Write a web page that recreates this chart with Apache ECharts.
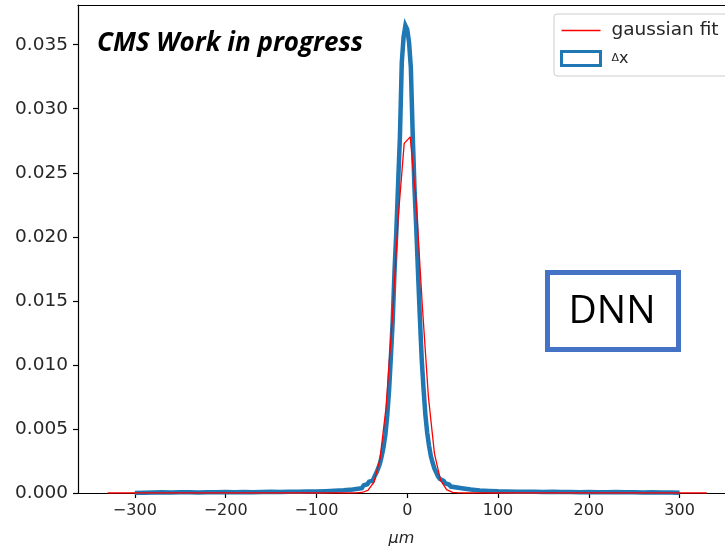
<!DOCTYPE html>
<html>
<head>
<meta charset="utf-8">
<script src="https://cdn.jsdelivr.net/npm/echarts@6/dist/echarts.min.js"></script>
<style>
  html, body { margin: 0; padding: 0; background: #fff; }
  #chart { width: 725px; height: 552px; }
</style>
</head>
<body>
<div id="chart"></div>
<script>
// Residual histogram (Δx, µm) with its gaussian fit.

// Fine 2 µm bins across the core, from -50 to 50 µm
const coreEdges = [-50,-48,-46,-44,-42,-40,-38,-36,-34,-32,-30,-28,-26,-24,-22,-20,-18,-16,-14,-12,-10,-8,-6,-4,-2,0,
                   2,4,6,8,10,12,14,16,18,20,22,24,26,28,30,32,34,36,38,40,42,44,46,48,50];
const coreDensity = [0.00052,0.00060,0.00068,0.00074,0.00088,0.00097,0.00112,0.00130,0.00158,0.00192,
                     0.00232,0.00290,0.00362,0.00458,0.00605,0.00800,0.01060,0.01340,0.01730,0.02040,
                     0.02420,0.02790,0.03360,0.03560,0.03650,
                     0.03620,0.03520,0.03320,0.02810,0.02380,0.02060,0.01700,0.01360,0.01040,0.00810,
                     0.00610,0.00470,0.00370,0.00288,0.00236,0.00190,0.00160,0.00128,0.00110,0.00096,
                     0.00084,0.00076,0.00066,0.00057,0.00050];

// Coarser 10 µm bins in the tails
const leftTailEdges = [-300,-290,-280,-270,-260,-250,-240,-230,-220,-210,-200,-190,-180,-170,-160,-150,-140,-130,-120,-110,-100,-90,-80,-70,-60,-50];
const leftTailDensity = [0.00002,0.00003,0.00005,0.00004,0.00006,0.00005,0.00004,0.00006,0.00005,0.00007,
                         0.00006,0.00008,0.00006,0.00007,0.00009,0.00008,0.00009,0.00010,0.00012,0.00011,
                         0.00014,0.00017,0.00021,0.00027,0.00038];
const rightTailEdges = [50,60,70,80,90,100,110,120,130,140,150,160,170,180,190,200,210,220,230,240,250,260,270,280,290,300];
const rightTailDensity = [0.00037,0.00027,0.00020,0.00016,0.00013,0.00012,0.00010,0.00009,0.00010,0.00008,
                          0.00009,0.00007,0.00008,0.00006,0.00007,0.00006,0.00005,0.00007,0.00005,0.00006,
                          0.00004,0.00005,0.00004,0.00003,0.00002];

// Gaussian fit curve, sampled points (µm, density)
const fitX = [-330,-63.33,-56.67,-50,-43.33,-36.67,-30,-23.33,-16.67,-10,-3.33,3.33,10,16.67,23.33,30,36.67,43.33,50,56.67,63.33,330];
const fitY = [0,0,0.00001,0.00004,0.00021,0.00084,0.00265,0.00667,0.01338,0.02143,0.02730,0.02780,0.02255,0.01458,0.00750,0.00308,0.00101,0.00026,0.00005,0.00001,0,0];

const xTicks = [-300,-200,-100,0,100,200,300];
const yTicks = [0,0.005,0.010,0.015,0.020,0.025,0.030,0.035];

// Step outline for the histogram (matplotlib "step" style)
function stepOutline(groups) {
  const pts = [];
  groups.forEach(([edges, vals]) => {
    for (let i = 0; i < vals.length; i++) {
      pts.push([edges[i], vals[i]]);
      pts.push([edges[i + 1], vals[i]]);
    }
  });
  const first = pts[0][0], last = pts[pts.length - 1][0];
  return [[first, 0]].concat(pts, [[last, 0]]);
}
const histPts = stepOutline([[leftTailEdges, leftTailDensity], [coreEdges, coreDensity], [rightTailEdges, rightTailDensity]]);
const fitPts = fitX.map((x, i) => [x, fitY[i]]);

const FONT = 'DejaVu Sans';
const INK = '#262626';
const xMin = -362.6, xMax = 350, yMax = 0.0381;
const spine = { show: true, onZero: false, lineStyle: { color: '#000', width: 1.2 } };

const chart = echarts.init(document.getElementById('chart'), null, { renderer: 'canvas' });
chart.setOption({
  animation: false,
  backgroundColor: '#fff',
  grid: { left: 78, right: 0, top: 5, bottom: 59 },
  xAxis: [{
    type: 'value', min: xMin, max: xMax, position: 'bottom',
    name: 'μm', nameLocation: 'middle', nameGap: 38,
    nameTextStyle: { fontFamily: FONT, fontSize: 16, fontStyle: 'italic', color: INK },
    axisLine: spine,
    axisTick: { show: true, length: 5, customValues: xTicks, lineStyle: { color: '#000', width: 1.2 } },
    axisLabel: { customValues: xTicks, fontFamily: FONT, fontSize: 16, color: INK, margin: 10,
                 formatter: v => String(v).replace('-', '\u2212') },
    splitLine: { show: false }
  }, {
    type: 'value', min: xMin, max: xMax, position: 'top',
    axisLine: spine,
    axisTick: { show: false }, axisLabel: { show: false }, splitLine: { show: false }
  }],
  yAxis: {
    type: 'value', min: 0, max: yMax, position: 'left',
    axisLine: spine,
    axisTick: { show: true, length: 5, customValues: yTicks, lineStyle: { color: '#000', width: 1.2 } },
    axisLabel: { customValues: yTicks, fontFamily: FONT, fontSize: 18.5, color: INK, margin: 10,
                 formatter: v => v.toFixed(3) },
    splitLine: { show: false }
  },
  legend: {
    left: 554, top: 14, orient: 'vertical',
    padding: [7, 40, 9, 6], itemGap: 10,
    itemWidth: 39, itemHeight: 14,
    symbolKeepAspect: true,
    borderColor: '#cccccc', borderWidth: 1, borderRadius: 3,
    backgroundColor: 'rgba(255,255,255,0.8)',
    textStyle: { fontFamily: FONT, fontSize: 18.5, color: INK, padding: [0, 0, 0, 6],
                 rich: { d: { fontFamily: FONT, fontSize: 11, color: INK }, x: { fontFamily: FONT, fontSize: 16, color: INK } } },
    formatter: name => name === 'Δx' ? '{d|Δ}{x|x}' : name,
    data: [
      { name: 'gaussian fit', icon: 'path://M0,0 L39,0 L39,1.4 L0,1.4 Z', itemStyle: { color: '#ff0000' } },
      { name: 'Δx', icon: 'rect', itemStyle: { color: '#ffffff', borderColor: '#1f77b4', borderWidth: 3 } }
    ]
  },
  series: [{
    name: 'gaussian fit', type: 'line', data: fitPts, symbol: 'none', showSymbol: false, z: 3,
    lineStyle: { color: '#ff0000', width: 1.3 }, itemStyle: { color: '#ff0000' }
  }, {
    name: 'Δx', type: 'line', data: histPts, symbol: 'none', showSymbol: false, z: 2,
    lineStyle: { color: '#1f77b4', width: 4.5, join: 'miter' }, itemStyle: { color: '#1f77b4' }
  }],
  graphic: [{
    type: 'text', left: 97, top: 31, z: 10,
    style: { text: 'CMS Work in progress', fontFamily: 'Open Sans', fontWeight: 'bold', fontStyle: 'italic',
             fontSize: 26, fill: '#000' }
  }, {
    type: 'rect', z: 10,
    shape: { x: 547.5, y: 272.5, width: 131, height: 77 },
    style: { fill: '#fff', stroke: '#4472c4', lineWidth: 5 }
  }, {
    type: 'text', z: 11, x: 612, y: 312,
    style: { text: 'DNN', fontFamily: 'Open Sans', fontSize: 39, fill: '#000', align: 'center', verticalAlign: 'middle' }
  }]
});
</script>
</body>
</html>
